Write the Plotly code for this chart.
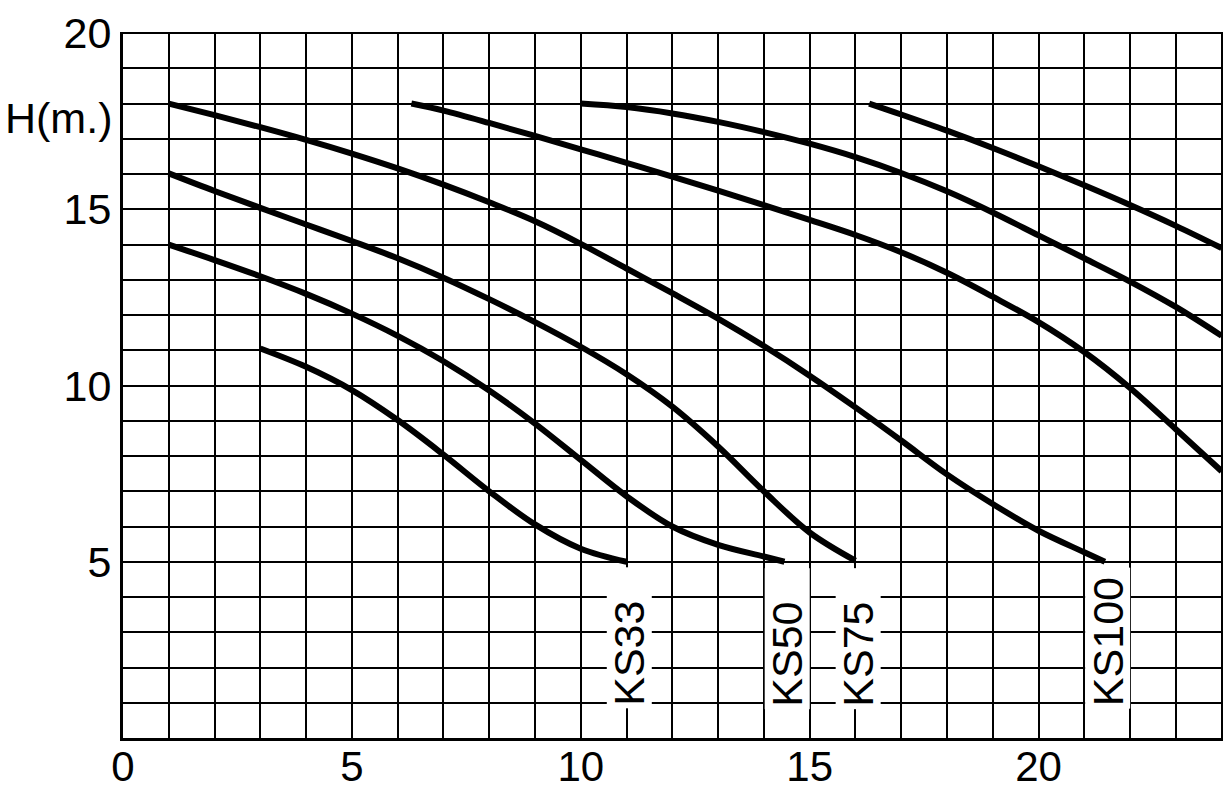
import plotly.graph_objects as go

# Pump curves: flow (x) vs head H (m)
ks33_x = [3, 4, 5, 6, 7, 8, 9, 10, 11]
ks33_y = [11.05, 10.53, 9.87, 9.02, 8.04, 7.0, 6.06, 5.37, 5.0]

ks50_x = [1, 2, 3, 4, 5, 6, 7, 8, 9, 10, 11, 12, 13, 14, 14.45]
ks50_y = [14.0, 13.56, 13.1, 12.6, 12.04, 11.41, 10.69, 9.86, 8.92, 7.89, 6.86, 6.0, 5.48, 5.15, 5.0]

ks75_x = [1, 2, 3, 4, 5, 6, 7, 8, 9, 10, 11, 12, 13, 14, 15, 16]
ks75_y = [16.02, 15.52, 15.04, 14.57, 14.1, 13.61, 13.06, 12.45, 11.8, 11.1, 10.32, 9.4, 8.27, 7.0, 5.83, 5.03]

ks100_x = [1, 2, 3, 4, 5, 6, 7, 8, 9, 10, 11, 12, 13, 14, 15, 16, 17, 18, 19, 20, 21, 21.45]
ks100_y = [18.0, 17.67, 17.33, 16.97, 16.58, 16.16, 15.7, 15.2, 14.66, 14.02, 13.32, 12.62, 11.9, 11.12, 10.28, 9.38, 8.44, 7.48, 6.64, 5.88, 5.27, 5.0]

e_x = [6.3, 7, 8, 9, 10, 11, 12, 13, 14, 15, 16, 17, 18, 19, 20, 21, 22, 23, 24]
e_y = [18.0, 17.8, 17.45, 17.08, 16.7, 16.32, 15.93, 15.53, 15.12, 14.7, 14.27, 13.78, 13.2, 12.52, 11.8, 10.95, 9.93, 8.76, 7.57]

f_x = [10, 11, 12, 13, 14, 15, 16, 17, 18, 19, 20, 21, 22, 23, 24]
f_y = [18.0, 17.9, 17.72, 17.48, 17.19, 16.86, 16.48, 16.03, 15.51, 14.91, 14.26, 13.61, 12.95, 12.23, 11.41]

g_x = [16.3, 17, 18, 19, 20, 21, 22, 23, 24]
g_y = [18.0, 17.69, 17.23, 16.74, 16.22, 15.68, 15.12, 14.53, 13.9]

labels = ["KS33", "KS50", "KS75", "KS100"]
label_x = [11, 14.45, 16, 21.45]

x_ticks = [0, 5, 10, 15, 20]
y_ticks = [5, 10, 15, 20]

FONT = "Liberation Sans, Arial, sans-serif"

fig = go.Figure()
for xs, ys in [(ks33_x, ks33_y), (ks50_x, ks50_y), (ks75_x, ks75_y), (ks100_x, ks100_y),
               (e_x, e_y), (f_x, f_y), (g_x, g_y)]:
    fig.add_trace(go.Scatter(x=xs, y=ys, mode="lines",
                             line=dict(color="black", width=6, shape="spline", smoothing=1.0),
                             showlegend=False, hoverinfo="skip"))

for t, lx in zip(labels, label_x):
    fig.add_annotation(x=lx, y=2.83, xref="x", yref="y", text=t, showarrow=False,
                       textangle=-90, width=136, height=40, align="left", valign="middle",
                       bgcolor="white", borderpad=2, xshift=3,
                       font=dict(family=FONT, size=43, color="black"))

fig.add_annotation(x=0, y=17.6, xref="paper", yref="y", text="H(m.)", showarrow=False,
                   xanchor="right", yanchor="middle", xshift=-9,
                   font=dict(family=FONT, size=43, color="black"))

grid = dict(showgrid=True, gridcolor="black", gridwidth=2)
fig.update_xaxes(range=[0, 24.03], tickvals=x_ticks, ticks="", showline=True, linecolor="black",
                 linewidth=3, zeroline=False, automargin=False, ticklabelstandoff=-10,
                 minor=dict(dtick=1, tick0=0, **grid), **grid,
                 tickfont=dict(family=FONT, size=42, color="black"))
fig.update_yaxes(range=[0, 20.03], tickvals=y_ticks, ticks="", showline=True, linecolor="black",
                 linewidth=3, zeroline=False, automargin=False,
                 minor=dict(dtick=1, tick0=0, **grid), **grid,
                 tickfont=dict(family=FONT, size=43, color="black"))

fig.update_layout(width=1224, height=800, margin=dict(l=123, r=1, t=32, b=62),
                  plot_bgcolor="white", paper_bgcolor="white", showlegend=False)

fig.write_html("out.html", config={"displayModeBar": False},
               post_script="document.body.style.margin='0';document.body.style.overflow='hidden';")
